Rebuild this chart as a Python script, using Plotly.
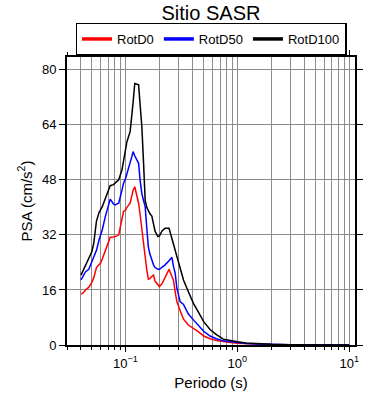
import plotly.graph_objects as go

periods = [0.040, 0.042, 0.044, 0.047, 0.050, 0.052, 0.055, 0.058, 0.060, 0.062,
           0.066, 0.070, 0.073, 0.078, 0.081, 0.084, 0.087, 0.093, 0.096, 0.100,
           0.103, 0.110, 0.114, 0.117, 0.121, 0.131, 0.135, 0.140, 0.145, 0.150,
           0.155, 0.160, 0.165, 0.172, 0.178, 0.184, 0.195, 0.201, 0.213, 0.226,
           0.245, 0.260, 0.268, 0.278, 0.288, 0.308, 0.330, 0.365, 0.405, 0.45,
           0.50, 0.57, 0.65, 0.75, 0.87, 1.0, 1.2, 1.5, 2.0, 3.0, 5.0, 7.0, 10.0]

rotd0 = [14.8, 15.2, 16.0, 16.8, 18.2, 19.5, 22.5, 23.5, 23.9, 25.0,
         27.6, 30.0, 31.3, 31.4, 31.5, 31.7, 32.0, 36.0, 38.8, 39.2,
         40.0, 41.2, 43.5, 45.0, 46.0, 41.2, 38.0, 33.5, 29.6, 25.5,
         21.8, 19.1, 19.3, 19.9, 20.3, 18.5, 17.3, 17.0, 17.9, 19.5,
         22.0, 19.9, 18.9, 15.5, 12.6, 10.0, 7.5, 5.8, 4.9, 3.8,
         2.6, 1.8, 1.3, 0.9, 0.7, 0.5, 0.35, 0.22, 0.13, 0.07, 0.03, 0.02, 0.01]

rotd50 = [18.9, 20.0, 21.3, 22.0, 24.0, 25.7, 27.5, 30.5, 32.0, 33.5,
          37.3, 40.5, 42.4, 41.0, 40.7, 41.0, 41.2, 45.0, 47.0, 48.3,
          50.0, 53.0, 54.7, 56.2, 55.0, 52.8, 48.0, 44.0, 42.0, 40.2,
          34.0, 28.6, 26.5, 24.5, 23.3, 22.5, 22.0, 22.0, 22.6, 23.3,
          24.5, 25.5, 23.0, 20.9, 16.5, 12.6, 11.8, 9.0, 7.3, 5.5,
          4.0, 2.6, 1.8, 1.2, 0.9, 0.7, 0.45, 0.3, 0.17, 0.08, 0.04, 0.02, 0.01]

rotd100 = [20.3, 21.8, 23.0, 25.2, 27.1, 29.5, 36.0, 38.5, 39.5, 40.2,
           42.6, 45.0, 46.3, 46.6, 47.0, 47.5, 48.0, 50.9, 53.5, 57.0,
           59.1, 62.0, 66.0, 70.5, 76.0, 75.6, 70.0, 63.5, 53.0, 42.0,
           40.0, 38.8, 38.2, 37.5, 35.0, 33.0, 31.5, 31.7, 33.2, 33.9,
           33.9, 31.0, 29.5, 27.6, 25.5, 22.8, 18.9, 15.5, 12.1, 9.5,
           6.8, 4.5, 3.0, 1.7, 1.2, 0.95, 0.6, 0.4, 0.22, 0.1, 0.05, 0.03, 0.02]

series_names = ["RotD0", "RotD50", "RotD100"]
series_colors = ["#ff0000", "#0000ff", "#000000"]
y_ticks = [0, 16, 32, 48, 64, 80]
x_tick_vals = [0.1, 1, 10]
x_tick_text = ["10<sup>\u22121</sup>", "10<sup>0</sup>", "10<sup>1</sup>"]

font_family = "Liberation Sans, Arial, sans-serif"

fig = go.Figure()
for name, ys, col in zip(series_names, [rotd0, rotd50, rotd100], series_colors):
    fig.add_trace(go.Scatter(x=periods, y=ys, mode="lines", name=name,
                             line=dict(color=col, width=1.5), showlegend=False))
    fig.add_trace(go.Scatter(x=[None], y=[None], mode="lines", name=name,
                             line=dict(color=col, width=3.5), showlegend=True))

grid_col = "#8c8c8c"
fig.update_layout(
    width=390, height=400,
    margin=dict(l=67, r=35, t=57, b=55, autoexpand=False),
    paper_bgcolor="white", plot_bgcolor="white",
    font=dict(family=font_family, size=13, color="black"),
    title=dict(text="Sitio SASR", x=0.541, xanchor="center", y=0.968, yanchor="middle",
               font=dict(size=20, family=font_family)),
    legend=dict(orientation="h", x=0.5, xanchor="center", y=1.0625, yanchor="middle",
                bordercolor="black", borderwidth=1.5, bgcolor="white",
                font=dict(size=13), tracegroupgap=0, itemwidth=30),
    xaxis=dict(type="log", range=[-1.523, 1.052],
               tickmode="array", tickvals=x_tick_vals, ticktext=x_tick_text,
               ticks="outside", ticklen=5, tickcolor="black",
               showline=True, linecolor="black", linewidth=2, mirror="ticks",
               showgrid=True, gridcolor=grid_col, gridwidth=1,
               minor=dict(dtick="D1", ticks="outside", ticklen=3, tickcolor="black",
                          showgrid=True, gridcolor=grid_col, gridwidth=1),
               title=dict(text="Periodo (s)", font=dict(size=15), standoff=8),
               tickfont=dict(size=13), zeroline=False, automargin=False),
    yaxis=dict(range=[0, 83.7], tickvals=y_ticks,
               ticks="outside", ticklen=6, tickcolor="black",
               showline=True, linecolor="black", linewidth=2, mirror="ticks",
               showgrid=True, gridcolor=grid_col, gridwidth=1,
               title=dict(text="PSA (cm/s<sup>2</sup>)", font=dict(size=15), standoff=6),
               tickfont=dict(size=13), zeroline=False, automargin=False),
)

fig.write_html("out.html", config={"displayModeBar": False},
               post_script="document.body.style.margin='0';")
